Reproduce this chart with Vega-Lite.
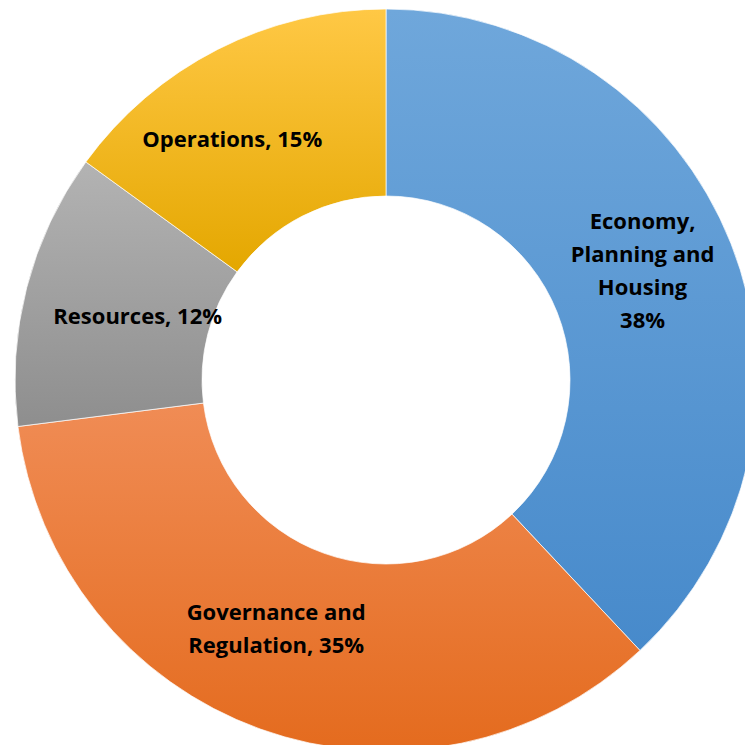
{
  "$schema": "https://vega.github.io/schema/vega-lite/v6.json",
  "width": 740,
  "height": 740,
  "padding": {"left": 13, "top": 7, "right": 0, "bottom": 0},
  "background": "white",
  "config": {"view": {"stroke": null}},
  "data": {"values": [
    {"cat": "Economy", "label": "Economy,\nPlanning and\nHousing\n38%", "value": 38, "order": 1},
    {"cat": "Governance", "label": "Governance and\nRegulation, 35%", "value": 35, "order": 2},
    {"cat": "Resources", "label": "Resources, 12%", "value": 12, "order": 3},
    {"cat": "Operations", "label": "Operations, 15%", "value": 15, "order": 4}
  ]},
  "encoding": {
    "theta": {"field": "value", "type": "quantitative", "stack": true},
    "order": {"field": "order", "type": "quantitative"}
  },
  "layer": [
    {
      "mark": {"type": "arc", "outerRadius": 371, "innerRadius": 184, "stroke": "#ffffff", "strokeWidth": 1, "strokeOpacity": 0.7},
      "encoding": {
        "fill": {
          "condition": [
            {"test": "datum.cat === 'Economy'", "value": {"gradient": "linear", "x1": 0, "y1": 0, "x2": 0, "y2": 1, "stops": [{"offset": 0, "color": "#6FA7DB"}, {"offset": 1, "color": "#478ACB"}]}},
            {"test": "datum.cat === 'Governance'", "value": {"gradient": "linear", "x1": 0, "y1": 0, "x2": 0, "y2": 1, "stops": [{"offset": 0, "color": "#F08C55"}, {"offset": 1, "color": "#E46B1E"}]}},
            {"test": "datum.cat === 'Resources'", "value": {"gradient": "linear", "x1": 0, "y1": 0, "x2": 0, "y2": 1, "stops": [{"offset": 0, "color": "#B3B3B3"}, {"offset": 1, "color": "#8E8E8E"}]}}
          ],
          "value": {"gradient": "linear", "x1": 0, "y1": 0, "x2": 0, "y2": 1, "stops": [{"offset": 0, "color": "#FFC845"}, {"offset": 1, "color": "#E4A700"}]}
        }
      }
    },
    {
      "mark": {"type": "text", "radius": 277, "font": "Open Sans", "fontWeight": "bold", "fontSize": 22, "lineHeight": 33, "lineBreak": "\n", "align": "center", "baseline": "middle", "color": "#000000", "dx": -1, "dy": -56},
      "encoding": {"text": {"condition": {"test": "datum.cat === 'Economy'", "field": "label"}, "value": ""}}
    },
    {
      "mark": {"type": "text", "radius": 277, "font": "Open Sans", "fontWeight": "bold", "fontSize": 22, "lineHeight": 33, "lineBreak": "\n", "align": "center", "baseline": "middle", "color": "#000000", "dx": -16, "dy": -28},
      "encoding": {"text": {"condition": {"test": "datum.cat === 'Governance'", "field": "label"}, "value": ""}}
    },
    {
      "mark": {"type": "text", "radius": 277, "font": "Open Sans", "fontWeight": "bold", "fontSize": 22, "lineHeight": 33, "lineBreak": "\n", "align": "center", "baseline": "middle", "color": "#000000", "dx": 20, "dy": 6},
      "encoding": {"text": {"condition": {"test": "datum.cat === 'Resources'", "field": "label"}, "value": ""}}
    },
    {
      "mark": {"type": "text", "radius": 277, "font": "Open Sans", "fontWeight": "bold", "fontSize": 22, "lineHeight": 33, "lineBreak": "\n", "align": "center", "baseline": "middle", "color": "#000000", "dx": -28, "dy": 7},
      "encoding": {"text": {"condition": {"test": "datum.cat === 'Operations'", "field": "label"}, "value": ""}}
    }
  ]
}
